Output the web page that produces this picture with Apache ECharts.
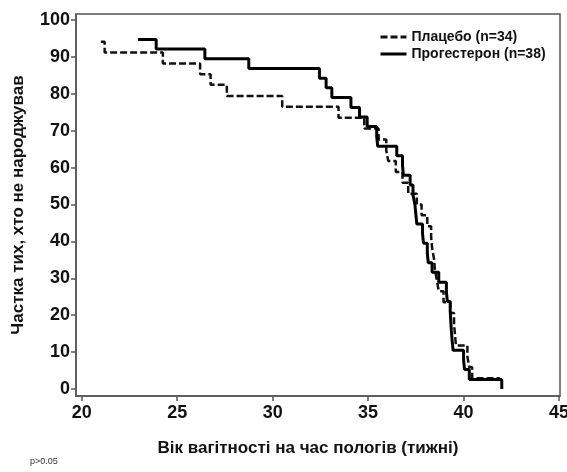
<!DOCTYPE html>
<html>
<head>
<meta charset="utf-8">
<script src="https://cdn.jsdelivr.net/npm/echarts@6/dist/echarts.min.js"></script>
<style>
html, body { margin: 0; padding: 0; background: #fff; }
#main { width: 567px; height: 472px; }
</style>
</head>
<body>
<div id="main"></div>
<script>
var myChart = echarts.init(document.getElementById('main'));

// Плацебо (n=34) - тиждень події / частка
var placeboWeeks = [21.0, 21.2, 24.25, 26.2, 26.75, 27.6, 30.5, 33.45, 34.8, 35.55, 35.95, 36.05, 36.45, 36.8, 37.1, 37.55, 37.8, 38.1, 38.3, 38.35, 38.45, 38.5, 38.6, 38.7, 38.95, 39.3, 39.5, 39.55, 39.6, 40.2, 40.3, 40.45, 41.9];
var placeboSurv  = [94.1, 91.2, 88.2, 85.3, 82.4, 79.4, 76.5, 73.5, 70.6, 67.6, 64.7, 61.8, 58.8, 55.9, 52.9, 50.0, 47.1, 44.1, 41.2, 38.2, 35.3, 32.4, 29.4, 26.5, 23.5, 20.6, 17.6, 14.7, 11.8, 8.8, 5.9, 2.9, 2.9];

// Прогестерон (n=38)
var progWeeks = [22.95, 23.9, 26.45, 28.75, 32.45, 32.8, 33.1, 34.1, 34.55, 34.95, 35.45, 35.5, 36.5, 36.8, 36.85, 37.2, 37.35, 37.45, 37.5, 37.55, 37.85, 37.9, 38.1, 38.15, 38.35, 38.7, 39.1, 39.15, 39.3, 39.33, 39.36, 39.4, 39.45, 40.0, 40.05, 40.3, 42.0];
var progSurv  = [94.7, 92.1, 89.5, 86.8, 84.2, 81.6, 79.0, 76.3, 73.7, 71.1, 68.4, 65.8, 63.2, 60.5, 57.9, 55.3, 52.6, 50.0, 47.4, 44.7, 42.1, 39.5, 36.8, 34.2, 31.6, 28.9, 26.3, 23.7, 21.1, 18.4, 15.8, 13.2, 10.5, 7.9, 5.3, 2.6, 0];

var xTicks = [20, 25, 30, 35, 40, 45];
var yTicks = [0, 10, 20, 30, 40, 50, 60, 70, 80, 90, 100];

function zip(a, b) {
    var out = [];
    for (var i = 0; i < a.length; i++) out.push([a[i], b[i]]);
    return out;
}

var font = 'Liberation Sans';
var axisCol = '#555';

option = {
    animation: false,
    backgroundColor: '#fff',
    grid: {
        left: 76, top: 14, right: 7, bottom: 76,
        show: true, borderColor: axisCol, borderWidth: 1.5,
        containLabel: false, outerBoundsMode: 'none'
    },
    legend: {
        orient: 'vertical',
        left: 374, top: 25,
        itemWidth: 26, itemHeight: 10, itemGap: 3,
        itemStyle: { opacity: 0, borderWidth: 0 },
        lineStyle: { width: 3 },
        textStyle: { fontFamily: font, fontWeight: 'bold', fontSize: 14, color: '#111' },
        data: ['Плацебо (n=34)', 'Прогестерон (n=38)']
    },
    xAxis: {
        type: 'value',
        min: 19.7, max: 45.05,
        name: 'Вік вагітності на час пологів (тижні)',
        nameLocation: 'middle', nameGap: 44,
        nameTextStyle: { fontFamily: font, fontWeight: 'bold', fontSize: 17, color: '#111', padding: [0, 20, 0, 0] },
        axisLine: { show: true, onZero: false, lineStyle: { color: axisCol, width: 1.5 } },
        axisTick: { show: true, length: 5, customValues: xTicks, lineStyle: { color: axisCol, width: 1.5 } },
        axisLabel: { customValues: xTicks, margin: 8, fontFamily: font, fontWeight: 'bold', fontSize: 18, color: '#111' },
        splitLine: { show: false }
    },
    yAxis: {
        type: 'value',
        min: -1.9, max: 101.6,
        name: 'Частка тих, хто не народжував',
        nameLocation: 'middle', nameGap: 49, nameRotate: 90,
        nameTextStyle: { fontFamily: font, fontWeight: 'bold', fontSize: 17, color: '#111' },
        axisLine: { show: true, onZero: false, lineStyle: { color: axisCol, width: 1.5 } },
        axisTick: { show: true, length: 5, customValues: yTicks, lineStyle: { color: axisCol, width: 1.5 } },
        axisLabel: { customValues: yTicks, margin: 6, fontFamily: font, fontWeight: 'bold', fontSize: 18, color: '#111' },
        splitLine: { show: false }
    },
    series: [
        {
            name: 'Плацебо (n=34)',
            type: 'line',
            step: 'end',
            symbol: 'none',
            lineStyle: { color: '#111', width: 2.5, type: [7, 3] },
            itemStyle: { color: '#111' },
            data: zip(placeboWeeks, placeboSurv)
        },
        {
            name: 'Прогестерон (n=38)',
            type: 'line',
            step: 'end',
            symbol: 'none',
            lineStyle: { color: '#000', width: 3 },
            itemStyle: { color: '#000' },
            data: zip(progWeeks, progSurv)
        }
    ],
    graphic: [{
        type: 'text', left: 30, top: 457,
        style: { text: 'p>0.05', fontFamily: font, fontSize: 9, fill: '#333' }
    }]
};

myChart.setOption(option);
</script>
</body>
</html>
